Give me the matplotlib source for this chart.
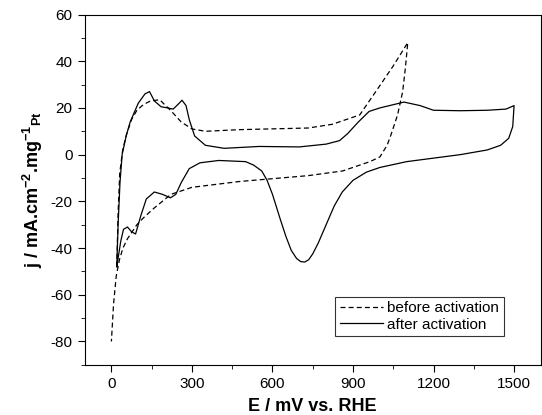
import matplotlib
matplotlib.use("Agg")
import matplotlib.pyplot as plt
from matplotlib.ticker import MultipleLocator

plt.rcParams['font.family'] = ['Liberation Sans', 'DejaVu Sans']
plt.rcParams['axes.unicode_minus'] = False
plt.rcParams['mathtext.fontset'] = 'custom'
plt.rcParams['mathtext.rm'] = 'Liberation Sans'
plt.rcParams['mathtext.bf'] = 'Liberation Sans:bold'

# before activation (dashed): anodic then cathodic branch, mV / mA cm-2 mg-1
before_E = [20, 25, 31, 42, 56, 75, 95, 120, 146, 180, 220, 260, 300, 350, 478, 733, 823, 925, 989, 1050, 1104,
            1095, 1085, 1066, 1040, 1027, 1000, 963, 861, 733, 478, 300, 222, 158, 120, 95, 60, 43, 30, 18, 8, 0]
before_j = [-48, -25, -8, 2, 8.5, 15, 19, 21.5, 23, 23.5, 19, 14, 11, 10, 10.7, 11.4, 13, 17, 27.7, 38, 48,
            37, 27, 17, 8, 4, -1, -3, -7, -9, -11.5, -14, -17, -23, -27, -30, -36, -40, -45, -52, -64, -80]

# after activation (solid)
after_E = [20, 25, 32, 40, 55, 70, 100, 125, 142, 160, 185, 210, 230, 248, 263, 278, 290, 310, 350,
           420, 550, 700, 800, 850, 880, 920, 960, 1000, 1090, 1150, 1200, 1300, 1400, 1470, 1500,
           1495, 1480, 1450, 1400, 1300, 1200, 1100, 1000, 950, 900, 860, 830, 800, 770, 750, 735, 720,
           705, 690, 670, 650, 630, 600, 580, 560, 530, 500, 400, 330, 290, 260, 240, 220, 190, 160, 130, 110, 90,
           75, 60, 45, 35, 20]
after_j = [-48, -30, -12, 0, 8, 14, 22, 26, 27, 23, 20.5, 20, 19.5, 21.5, 23.3, 21, 15, 8, 4,
           2.7, 3.5, 3.3, 4.5, 6, 9, 14, 18.5, 20, 22.5, 21, 19, 18.8, 19, 19.5, 21,
           12, 7, 4, 2, 0, -1.5, -3, -5.5, -7.5, -11, -16, -22, -30, -38, -42.5, -45, -46,
           -45.8, -44.5, -41, -35, -28, -17, -11, -7, -4.5, -3, -2.5, -3.5, -6, -12, -17, -18.5, -17, -16, -19, -26, -34,
           -33, -31, -32, -37, -48]

fig = plt.figure(figsize=(5.42, 4.15), dpi=100)
ax = fig.add_axes([0.156, 0.121, 0.842, 0.844])
ax.plot(before_E, before_j, 'k--', lw=0.9, dashes=(4, 2.5), label='before activation')
ax.plot(after_E, after_j, 'k-', lw=0.9, label='after activation')

ax.set_xlim(-100, 1600)
ax.set_ylim(-90, 60)
ax.set_xticks([0, 300, 600, 900, 1200, 1500])
ax.set_yticks(range(-80, 61, 20))
ax.xaxis.set_minor_locator(MultipleLocator(150))
ax.yaxis.set_minor_locator(MultipleLocator(10))
ax.tick_params(which='major', length=5, labelsize=11)
ax.tick_params(which='minor', length=3)
ax.set_xlabel('E / mV vs. RHE', fontsize=13, fontweight='bold', labelpad=5)
ax.set_ylabel(r'j / mA.cm$^{\mathbf{-2}}$.mg$^{\mathbf{-1}}$$_{\mathbf{Pt}}$',
              fontsize=13, fontweight='bold', labelpad=4)
leg = ax.legend(loc='lower right', bbox_to_anchor=(0.935, 0.06), fancybox=False,
                edgecolor='k', fontsize=11, handlelength=2.8, borderpad=0.3,
                labelspacing=0.15, handletextpad=0.3)
leg.get_frame().set_linewidth(0.8)
fig.savefig('out.png', dpi=100)
